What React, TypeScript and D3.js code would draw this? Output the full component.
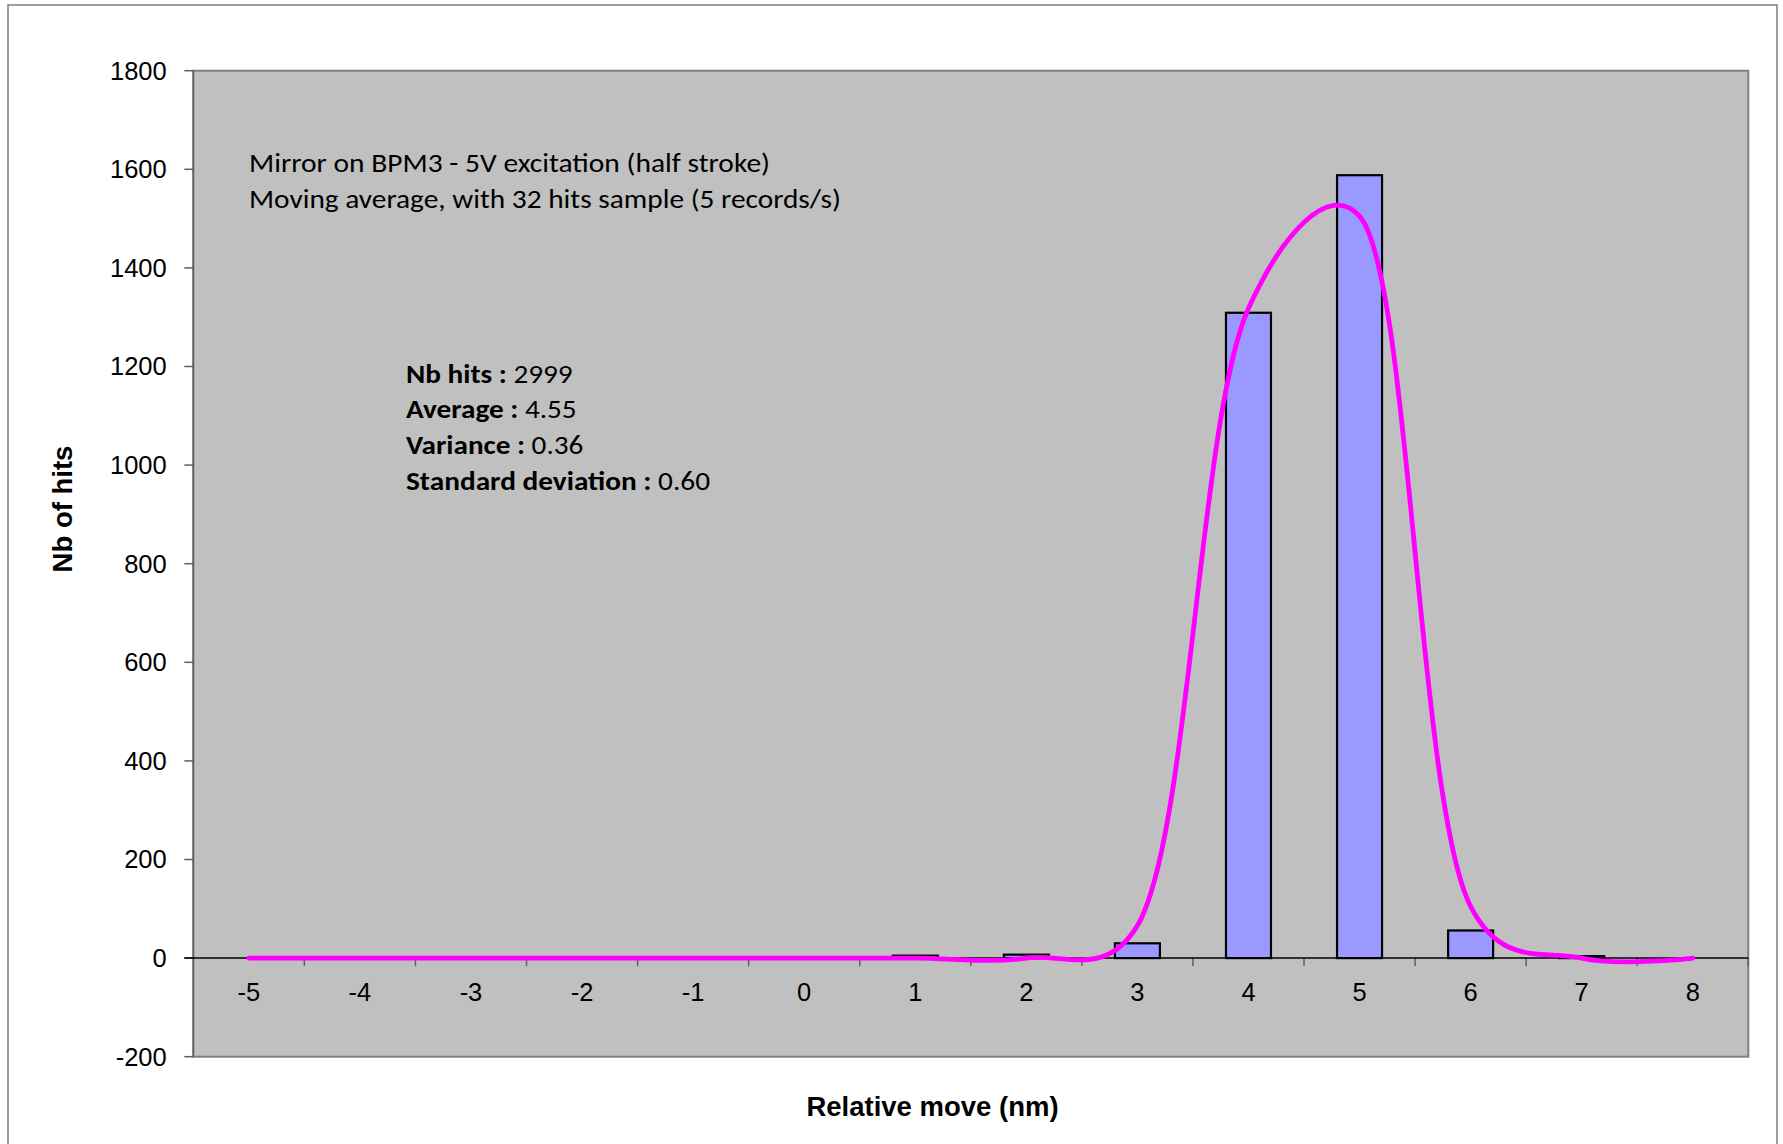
import React from "react";
import * as d3 from "d3";

const categories = [-5, -4, -3, -2, -1, 0, 1, 2, 3, 4, 5, 6, 7, 8];
const barValues = [0, 0, 0, 0, 0, 0, 5, 7, 30, 1309, 1588, 56, 4, 0];
const lineValues = [0, 0, 0, 0, 0, 0, 0, 0, 66, 1318, 1505, 105, 0, 0];
const yTicks = [-200, 0, 200, 400, 600, 800, 1000, 1200, 1400, 1600, 1800];
const noteLines = [
  "Mirror on BPM3 - 5V excitation (half stroke)",
  "Moving average, with 32 hits sample (5 records/s)",
];
const statLabels = ["Nb hits : ", "Average : ", "Variance : ", "Standard deviation : "];
const statValues = ["2999", "4.55", "0.36", "0.60"];

const W = 1783;
const H = 1144;
const plot = { left: 193.3, right: 1748.3, top: 70.7, bottom: 1056.7 };

export default function App() {
  const x = d3
    .scaleBand<string>()
    .domain(categories.map(String))
    .range([plot.left, plot.right])
    .paddingInner(0.595)
    .paddingOuter(0.2975);
  const y = d3.scaleLinear().domain([-200, 1800]).range([plot.bottom, plot.top]);
  const step = x.step();
  const bw = x.bandwidth();
  const cx = (c: number) => (x(String(c)) as number) + bw / 2;

  const line = d3
    .line<number>()
    .x((_, i) => cx(categories[i]))
    .y((d) => y(d))
    .curve(d3.curveCatmullRom.alpha(0.3));

  const y0 = y(0);
  const axisFont = "'Liberation Sans', Arial, sans-serif";
  const noteFont = "Carlito, Calibri, Lato, 'Open Sans', sans-serif";
  const noteWidths = [521, 592];
  const statWidths = [166.7, 170.7, 177.3, 304];

  return (
    <svg
      width={W}
      height={H}
      style={{ position: "absolute", left: 0, top: 0, display: "block" }}
    >
      <rect x={0} y={0} width={W} height={H} fill="#ffffff" />
      {/* chart frame */}
      <rect x={8} y={5} width={1769} height={1160} fill="none" stroke="#808080" strokeWidth={1.5} />
      {/* plot area */}
      <rect
        x={plot.left}
        y={plot.top}
        width={plot.right - plot.left}
        height={plot.bottom - plot.top}
        fill="#C0C0C0"
        stroke="#808080"
        strokeWidth={2}
      />
      {/* y axis line */}
      <line x1={plot.left} x2={plot.left} y1={plot.top} y2={plot.bottom} stroke="#606060" strokeWidth={1.5} />
      {/* y ticks */}
      {yTicks.map((t) => (
        <g key={t}>
          <line x1={plot.left - 9} x2={plot.left} y1={y(t)} y2={y(t)} stroke="#606060" strokeWidth={1.5} />
          <text
            x={166.7}
            y={y(t)}
            dy="0.35em"
            textAnchor="end"
            fontFamily={axisFont}
            fontSize={25.5}
            fill="#000"
          >
            {t}
          </text>
        </g>
      ))}
      {/* x axis ticks */}
      {categories.map((c, i) => (
        <line
          key={"xt" + c}
          x1={plot.left + (i + 1) * step}
          x2={plot.left + (i + 1) * step}
          y1={y0}
          y2={y0 + 8}
          stroke="#606060"
          strokeWidth={1.5}
        />
      ))}
      {/* bars */}
      {categories.map((c, i) => {
        const v = barValues[i];
        if (v <= 0) return null;
        return (
          <rect
            key={"b" + c}
            x={x(String(c)) as number}
            y={y(v)}
            width={bw}
            height={y0 - y(v)}
            fill="#9999FF"
            stroke="#000"
            strokeWidth={2.2}
          />
        );
      })}
      {/* x axis line */}
      <line x1={plot.left - 9} x2={plot.right} y1={y0} y2={y0} stroke="#000" strokeWidth={1.5} />
      {/* smoothed line */}
      <path
        d={line(lineValues) || ""}
        fill="none"
        stroke="#FF00FF"
        strokeWidth={4.8}
        strokeLinecap="round"
        strokeLinejoin="round"
      />
      {/* x tick labels */}
      {categories.map((c) => (
        <text
          key={"xl" + c}
          x={cx(c)}
          y={1000.5}
          textAnchor="middle"
          fontFamily={axisFont}
          fontSize={25.5}
          fill="#000"
        >
          {c}
        </text>
      ))}
      {/* axis titles */}
      <text
        x={932.5}
        y={1116}
        textAnchor="middle"
        fontFamily={axisFont}
        fontWeight="bold"
        fontSize={27.5}
        fill="#000"
      >
        Relative move (nm)
      </text>
      <text
        transform={`translate(72,509) rotate(-90)`}
        textAnchor="middle"
        fontFamily={axisFont}
        fontWeight="bold"
        fontSize={27.5}
        fill="#000"
      >
        Nb of hits
      </text>
      {/* notes */}
      {noteLines.map((s, i) => (
        <text
          key={"n" + i}
          x={249}
          y={171.5 + i * 36.4}
          fontFamily={noteFont}
          fontSize={26}
          fill="#000"
          textLength={noteWidths[i]}
          lengthAdjust="spacingAndGlyphs"
        >
          {s}
        </text>
      ))}
      {statLabels.map((s, i) => (
        <text
          key={"s" + i}
          x={406}
          y={382.7 + i * 35.6}
          fontFamily={noteFont}
          fontSize={26}
          fill="#000"
          textLength={statWidths[i]}
          lengthAdjust="spacingAndGlyphs"
        >
          <tspan fontWeight="bold">{s}</tspan>
          <tspan>{statValues[i]}</tspan>
        </text>
      ))}
    </svg>
  );
}
